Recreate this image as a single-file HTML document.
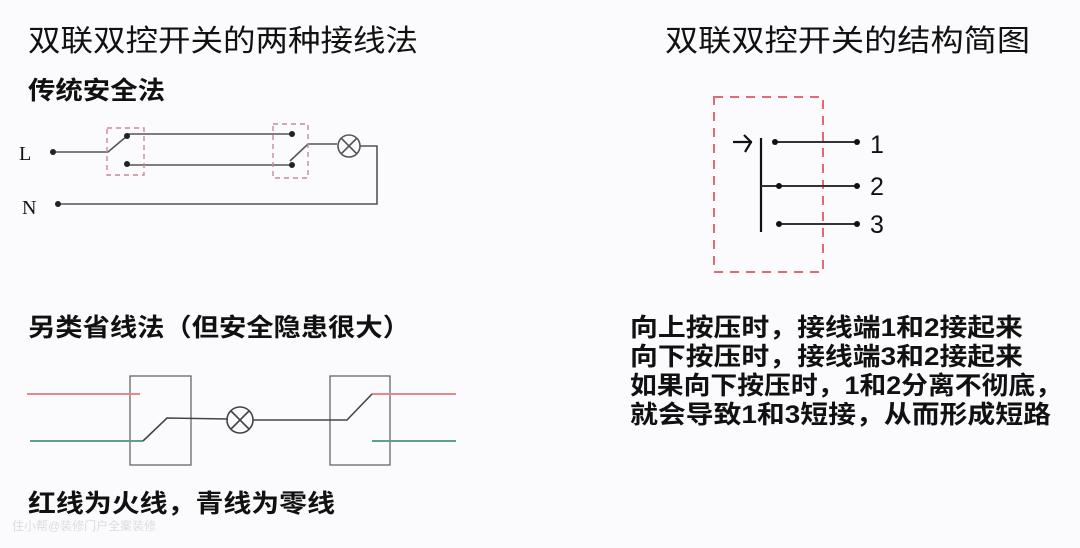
<!DOCTYPE html>
<html><head><meta charset="utf-8"><style>
html,body{margin:0;padding:0;background:#fbfbfd;}
svg{display:block}
text{font-family:"Liberation Sans","Noto Sans CJK SC",sans-serif;fill:#111}
</style></head><body>
<svg width="1080" height="548" viewBox="0 0 1080 548" xmlns="http://www.w3.org/2000/svg">
<rect width="1080" height="548" fill="#fbfbfd"/>
<text x="28" y="51" font-size="30" textLength="390" lengthAdjust="spacingAndGlyphs">双联双控开关的两种接线法</text>
<text x="665" y="51" font-size="30" textLength="365" lengthAdjust="spacingAndGlyphs">双联双控开关的结构简图</text>
<text x="28" y="99" font-size="25" font-weight="bold" textLength="137" lengthAdjust="spacingAndGlyphs">传统安全法</text>
<text x="28" y="336" font-size="25" font-weight="bold" textLength="382" lengthAdjust="spacingAndGlyphs">另类省线法（但安全隐患很大）</text>
<text x="28" y="512" font-size="25" font-weight="bold" textLength="307" lengthAdjust="spacingAndGlyphs">红线为火线，青线为零线</text>
<g font-size="25" font-weight="bold">
<text x="630" y="336" textLength="393" lengthAdjust="spacingAndGlyphs">向上按压时，接线端1和2接起来</text>
<text x="630" y="365" textLength="393" lengthAdjust="spacingAndGlyphs">向下按压时，接线端3和2接起来</text>
<text x="630" y="394" textLength="432" lengthAdjust="spacingAndGlyphs">如果向下按压时，1和2分离不彻底，</text>
<text x="630" y="423" textLength="421" lengthAdjust="spacingAndGlyphs">就会导致1和3短接，从而形成短路</text>
</g>
<text x="12" y="530" font-size="12" fill="#ddd" style="fill:#dcdce0">住小帮@装修门户全案装修</text>

<!-- top diagram -->
<g font-family="Liberation Serif" >
<text x="19" y="160" font-size="20" style="font-family:'Liberation Serif',serif">L</text>
<text x="22" y="214" font-size="20" style="font-family:'Liberation Serif',serif">N</text>
</g>
<g stroke="#555" stroke-width="1.6" fill="none">
<polyline points="53,152 108,152 127,136"/>
<line x1="127" y1="134" x2="292" y2="134"/>
<line x1="127" y1="165" x2="292" y2="165"/>
<polyline points="290,161 308,144 337,144"/>
<circle cx="349" cy="146" r="11"/>
<line x1="341" y1="138" x2="357" y2="154"/><line x1="357" y1="138" x2="341" y2="154"/>
<polyline points="360,146 377,146 377,204 58,204"/>
</g>
<g stroke="#c98a95" stroke-width="1.4" fill="none" stroke-dasharray="5,4">
<rect x="107" y="128" width="37" height="47"/>
<rect x="273" y="124" width="35" height="54"/>
</g>
<g fill="#222">
<circle cx="53" cy="152" r="3"/><circle cx="58" cy="204" r="3"/>
<circle cx="127" cy="136" r="3"/><circle cx="127" cy="164" r="3"/>
<circle cx="292" cy="134" r="3"/><circle cx="292" cy="165" r="3"/>
</g>

<!-- bottom diagram -->
<g stroke="#666" stroke-width="1.3" fill="none">
<rect x="130" y="376" width="61" height="89"/>
<rect x="330" y="376" width="60" height="89"/>
</g>
<line x1="27" y1="394" x2="140" y2="394" stroke="#e8868a" stroke-width="2"/>
<line x1="30" y1="441" x2="143" y2="441" stroke="#5f9f8e" stroke-width="2"/>
<line x1="372" y1="394" x2="456" y2="394" stroke="#e8868a" stroke-width="2"/>
<line x1="372" y1="441" x2="456" y2="441" stroke="#5f9f8e" stroke-width="2"/>
<g stroke="#444" stroke-width="1.6" fill="none">
<polyline points="143,441 167,418 228,419"/>
<circle cx="240" cy="420" r="13"/>
<line x1="231" y1="411" x2="249" y2="429"/><line x1="249" y1="411" x2="231" y2="429"/>
<polyline points="253,420 347,420 372,394"/>
</g>

<!-- right structure -->
<rect x="714" y="97" width="109" height="175" fill="none" stroke="#e06b72" stroke-width="2" stroke-dasharray="9,7"/>
<g stroke="#111" stroke-width="2.2" fill="none">
<line x1="733" y1="142" x2="752" y2="142"/>
<polyline points="744,135 751,142 745,152"/>
<line x1="761" y1="138" x2="761" y2="232"/>
</g>
<g stroke="#333" stroke-width="2" fill="none">
<line x1="775" y1="142" x2="857" y2="142"/>
<line x1="761" y1="186" x2="857" y2="186"/>
<line x1="779" y1="224" x2="857" y2="224"/>
</g>
<g fill="#111">
<circle cx="775" cy="142" r="3"/><circle cx="857" cy="142" r="3"/>
<circle cx="779" cy="186" r="3"/><circle cx="857" cy="186" r="3"/>
<circle cx="779" cy="224" r="3"/><circle cx="857" cy="224" r="3"/>
</g>
<g font-size="25">
<text x="870" y="153">1</text>
<text x="870" y="195">2</text>
<text x="870" y="233">3</text>
</g>
</svg>
</body></html>
